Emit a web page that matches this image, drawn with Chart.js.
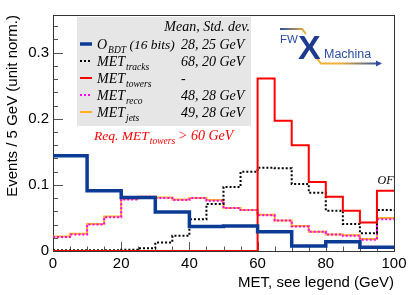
<!DOCTYPE html>
<html>
<head>
<meta charset="utf-8">
<script src="https://cdn.jsdelivr.net/npm/chart.js@4.4.0/dist/chart.umd.min.js"></script>
<style>
  html, body { margin: 0; padding: 0; background: #fff; }
</style>
</head>
<body>
<canvas id="met" width="411" height="295"></canvas>
<script>
// bin lower edges (GeV), 5 GeV bins
var binLow = [0, 5, 10, 15, 20, 25, 30, 35, 40, 45, 50, 55, 60, 65, 70, 75, 80, 85, 90, 95];
var binEnd = 100;

var oBDT      = [0.144, 0.144, 0.091, 0.091, 0.081, 0.081, 0.059, 0.059, 0.037, 0.037, 0.038, 0.038, 0.029, 0.029, 0.0076, 0.0076, 0.014, 0.014, 0.0056, 0.0056];
var metTracks = [0.001, 0.001, 0.001, 0.001, 0.002, 0.004, 0.013, 0.023, 0.048, 0.071, 0.097, 0.120, 0.126, 0.125, 0.1015, 0.088, 0.061, 0.041, 0.027, 0.062];
var metTowers = [0, 0, 0, 0, 0, 0, 0, 0, 0, 0, 0, 0, 0.261, 0.197, 0.160, 0.1045, 0.082, 0.061, 0.043, 0.091];
var metReco   = [0.021, 0.025, 0.040, 0.051, 0.078, 0.082, 0.080, 0.077, 0.080, 0.076, 0.065, 0.062, 0.054, 0.046, 0.037, 0.029, 0.025, 0.023, 0.017, 0.048];
var metJets   = [0.022, 0.026, 0.041, 0.052, 0.079, 0.082, 0.081, 0.078, 0.080, 0.077, 0.065, 0.062, 0.055, 0.046, 0.038, 0.029, 0.025, 0.024, 0.018, 0.050];

var xTicks = [0, 20, 40, 60, 80, 100];
var yTicks = [0, 0.1, 0.2, 0.3];
var yMax = 0.357;

// legend rows: name, subscript, extra, mean/std text
var legendRows = [
    ['O', 'BDT', ' (16 bits)', '28, 25 GeV'],
    ['MET', 'tracks', '', '68, 20 GeV'],
    ['MET', 'towers', '', '-'],
    ['MET', 'reco', '', '48, 28 GeV'],
    ['MET', 'jets', '', '49, 28 GeV']
];

/////////////////////////////////////////////////////////////////////////////

function histPoints(vals) {
    var pts = binLow.map(function(x, i) { return {x: x, y: vals[i]}; });
    pts.push({x: binEnd, y: vals[vals.length - 1]});
    return pts;
}

var serif = '"Liberation Serif", "DejaVu Serif", serif';
var sans = '"Liberation Sans", Arial, sans-serif';

function subText(ctx, x, y, main, sub, rest, color, size) {
    size = size || 14;
    ctx.fillStyle = color;
    ctx.textAlign = 'left';
    ctx.font = 'italic ' + size + 'px ' + serif;
    ctx.fillText(main, x, y);
    var w = ctx.measureText(main).width;
    ctx.font = 'italic 9.5px ' + serif;
    ctx.fillText(sub, x + w + 1, y + 4);
    var w2 = ctx.measureText(sub).width;
    if (rest) {
        ctx.font = 'italic 13.5px ' + serif;
        ctx.fillText(rest, x + w + w2 + 1, y);
    }
}

var rootStyle = {
    id: 'rootStyle',
    beforeDatasetsDraw: function(chart) {
        var ctx = chart.ctx, a = chart.chartArea;
        var xs = chart.scales.x, ys = chart.scales.y;
        ctx.save();
        ctx.strokeStyle = '#555';
        ctx.lineWidth = 1;
        ctx.beginPath();
        // x ticks, inside
        for (var v = 0; v <= 100; v += 5) {
            var px = Math.round(xs.getPixelForValue(v)) + 0.5;
            var len = (v % 20 === 0) ? 9 : 4.5;
            ctx.moveTo(px, a.bottom);
            ctx.lineTo(px, a.bottom - len);
        }
        // y ticks, inside
        for (var k = 0; k <= 17; k++) {
            var val = k * 0.02;
            var py = Math.round(ys.getPixelForValue(val)) + 0.5;
            var l = (k % 5 === 0) ? 10 : 5;
            ctx.moveTo(a.left, py);
            ctx.lineTo(a.left + l, py);
        }
        ctx.stroke();
        ctx.strokeStyle = '#333';
        ctx.strokeRect(Math.round(a.left) + 0.5, Math.round(a.top) + 0.5,
                       Math.round(a.right - a.left), Math.round(a.bottom - a.top));
        ctx.restore();
    },
    afterDatasetsDraw: function(chart) {
        var ctx = chart.ctx, a = chart.chartArea;
        ctx.save();

        // legend box
        ctx.fillStyle = '#e6e6e6';
        ctx.fillRect(77, 17, 174, 109);
        ctx.fillStyle = '#000';
        ctx.font = 'italic 14px ' + serif;
        ctx.textAlign = 'right';
        ctx.textBaseline = 'alphabetic';
        ctx.fillText('Mean, Std. dev.', 250, 31);

        var ds = chart.data.datasets;
        legendRows.forEach(function(r, i) {
            var base = 48.5 + i * 17;
            var d = ds[i];
            ctx.save();
            ctx.strokeStyle = d.borderColor;
            ctx.lineWidth = d.borderWidth;
            ctx.setLineDash(d.borderDash || []);
            ctx.beginPath();
            ctx.moveTo(80, base - 4.5);
            ctx.lineTo(92, base - 4.5);
            ctx.stroke();
            ctx.restore();
            subText(ctx, 97, base, r[0], r[1], r[2], '#000');
            ctx.font = 'italic 14px ' + serif;
            ctx.textAlign = 'left';
            ctx.fillStyle = '#000';
            ctx.fillText(r[3], 181, base);
        });

        // requirement text
        subText(ctx, 94, 140, 'Req. MET', 'towers', '', '#ff0000', 13.5);
        ctx.font = 'italic 14px ' + serif;
        ctx.fillText('> 60 GeV', 178, 140);

        // overflow label
        ctx.fillStyle = '#000';
        ctx.font = 'italic 12px ' + serif;
        ctx.textAlign = 'center';
        ctx.fillText('OF', chart.scales.x.getPixelForValue(97.5), 184);

        // axis titles
        ctx.font = '15px ' + sans;
        ctx.textAlign = 'right';
        ctx.fillText('MET, see legend (GeV)', a.right, 287);
        ctx.save();
        ctx.translate(17, a.top);
        ctx.rotate(-Math.PI / 2);
        ctx.textAlign = 'right';
        ctx.fillText('Events / 5 GeV (unit norm.)', 0, 0);
        ctx.restore();

        // FWXMachina logo
        var blue = '#2b4ea2', orange = '#f2b134';
        var g1 = ctx.createLinearGradient(280, 0, 306, 0);
        g1.addColorStop(0, blue);
        g1.addColorStop(1, orange);
        ctx.lineWidth = 2;
        ctx.strokeStyle = g1;
        ctx.beginPath();
        ctx.moveTo(280, 29);
        ctx.lineTo(302, 29);
        ctx.lineTo(306, 34);
        ctx.stroke();
        var g2 = ctx.createLinearGradient(317, 0, 380, 0);
        g2.addColorStop(0, orange);
        g2.addColorStop(0.35, orange);
        g2.addColorStop(1, blue);
        ctx.strokeStyle = g2;
        ctx.beginPath();
        ctx.moveTo(317, 58.5);
        ctx.lineTo(321, 63.5);
        ctx.lineTo(377, 63.5);
        ctx.stroke();
        ctx.fillStyle = blue;
        ctx.beginPath();
        ctx.moveTo(382, 63.5);
        ctx.lineTo(376, 60.5);
        ctx.lineTo(376, 66.5);
        ctx.closePath();
        ctx.fill();
        ctx.textAlign = 'left';
        ctx.font = '11.5px ' + sans;
        ctx.fillText('FW', 280, 43);
        ctx.font = '12.5px ' + sans;
        ctx.fillText('Machina', 324, 58);
        ctx.fillStyle = '#1c3b8e';
        ctx.font = 'bold 34px ' + sans;
        ctx.fillText('X', 298, 59);

        ctx.restore();
    }
};

document.addEventListener('DOMContentLoaded', function() {
    var tickFont = {family: sans, size: 15};

    var data = {
        datasets: [
            {label: 'O_BDT', data: histPoints(oBDT), borderColor: '#0b3b94', borderWidth: 3.5, order: 0},
            {label: 'MET_tracks', data: histPoints(metTracks), borderColor: '#000000', borderWidth: 2, borderDash: [2, 2], order: 2},
            {label: 'MET_towers', data: histPoints(metTowers), borderColor: '#ff0000', borderWidth: 2, order: 1},
            {label: 'MET_reco', data: histPoints(metReco), borderColor: '#ff00ff', borderWidth: 2, borderDash: [2, 2], order: 3},
            {label: 'MET_jets', data: histPoints(metJets), borderColor: '#ffb020', borderWidth: 2, order: 4}
        ]
    };
    data.datasets.forEach(function(d) {
        d.stepped = 'before';
        d.fill = false;
        d.pointRadius = 0;
        d.borderCapStyle = 'butt';
    });

    new Chart(document.getElementById('met'), {
        type: 'line',
        data: data,
        options: {
            responsive: false,
            animation: false,
            layout: {padding: {left: 0, right: 17, top: 15, bottom: 0}},
            plugins: {legend: {display: false}, tooltip: {enabled: false}},
            scales: {
                x: {
                    type: 'linear', min: 0, max: 100,
                    grid: {display: false, drawTicks: false}, border: {display: false},
                    ticks: {font: tickFont, color: '#000', padding: 4, maxRotation: 0, autoSkip: false},
                    afterBuildTicks: function(s) { s.ticks = xTicks.map(function(v) { return {value: v}; }); },
                    afterFit: function(s) { s.height = 44; }
                },
                y: {
                    min: 0, max: yMax,
                    grid: {display: false, drawTicks: false}, border: {display: false},
                    ticks: {font: tickFont, color: '#000', padding: 4},
                    afterBuildTicks: function(s) { s.ticks = yTicks.map(function(v) { return {value: v}; }); },
                    afterFit: function(s) { s.width = 53; }
                }
            }
        },
        plugins: [rootStyle]
    });
});
</script>
</body>
</html>
